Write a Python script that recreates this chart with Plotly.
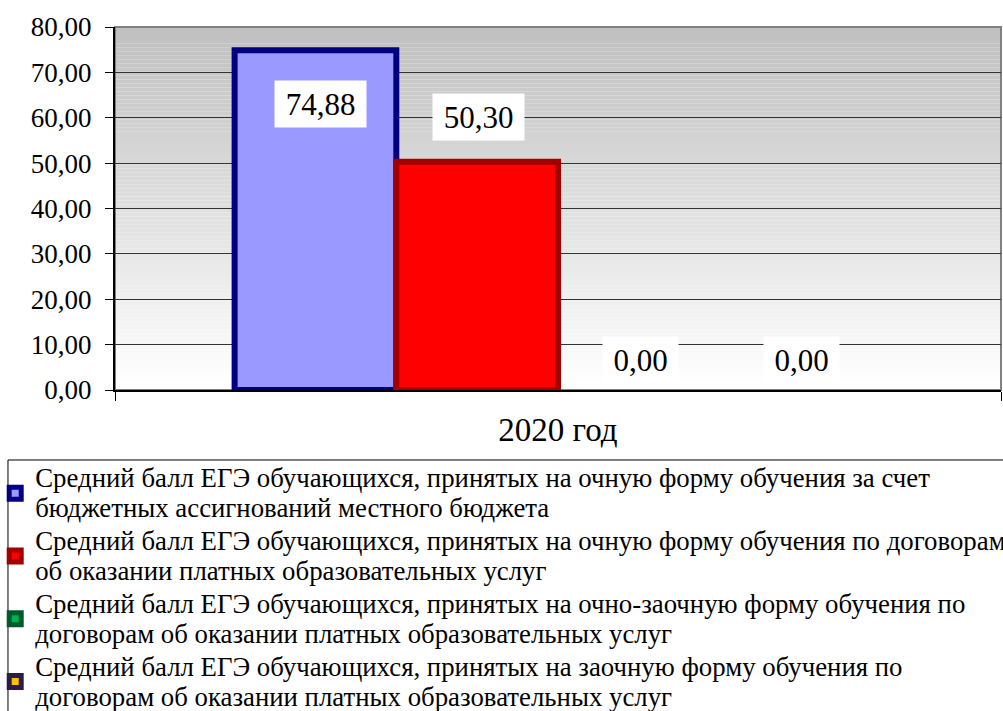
import plotly.graph_objects as go

categories = ["2020 год"]
series_lines = [
    ["Средний балл ЕГЭ обучающихся, принятых на очную форму обучения за счет",
     "бюджетных ассигнований местного бюджета"],
    ["Средний балл ЕГЭ обучающихся, принятых на очную форму обучения по договорам",
     "об оказании платных образовательных услуг"],
    ["Средний балл ЕГЭ обучающихся, принятых на очно-заочную форму обучения по",
     "договорам об оказании платных образовательных услуг"],
    ["Средний балл ЕГЭ обучающихся, принятых на заочную форму обучения по",
     "договорам об оказании платных образовательных услуг"],
]
values = [74.88, 50.30, 0.00, 0.00]
value_labels = ["74,88", "50,30", "0,00", "0,00"]
y_ticks = [0, 10, 20, 30, 40, 50, 60, 70, 80]

fill_colors = ["#9999FF", "#FF0000", "#00B050", "#FFC000"]
line_colors = ["#000080", "#A00000", "#005A2B", "#2E1A47"]
label_yshift = [-54, 45, 30, 30]
label_xshift = [5, 1, 2, 1]
label_w = [89, 89, 73, 73]

FONT = "Liberation Serif"
bargap = 0.27
n = len(values)

fig = go.Figure()
# bars (per-point border hidden for zero-height bars)
for i in range(n):
    fig.add_trace(go.Bar(
        x=categories, y=[values[i]], name=series_lines[i][0],
        offsetgroup=str(i), legendgroup=str(i), showlegend=False,
        marker=dict(color=fill_colors[i],
                    line=dict(color=line_colors[i], width=[6 if values[i] > 0 else 0])),
    ))
# legend entries
for i in range(n):
    label = "<br>".join(f'<span style="font-size:26.8px">{ln}</span>' for ln in series_lines[i])
    fig.add_trace(go.Bar(
        x=categories, y=[None], name=label,
        offsetgroup=str(i), legendgroup=str(i), showlegend=True, hoverinfo="skip",
        marker=dict(color=fill_colors[i], line=dict(color=line_colors[i], width=6)),
    ))

# data labels
bw = (1 - bargap) / n
for i in range(n):
    fig.add_annotation(
        x=(i - (n - 1) / 2) * bw, y=values[i], xref="x", yref="y",
        text=value_labels[i], showarrow=False,
        yshift=label_yshift[i], xshift=label_xshift[i],
        bgcolor="white", width=label_w[i], height=44,
        font=dict(family=FONT, size=31, color="black"),
    )

# gradient background
steps = 90
for k in range(steps):
    t = k / (steps - 1)
    g = int(round(192 + (255 - 192) * (1 - t)))
    fig.add_shape(type="rect", xref="x domain", yref="y domain",
                  x0=0, x1=1, y0=k / steps, y1=(k + 1) / steps,
                  fillcolor=f"rgb({g},{g},{g})", line=dict(width=0), layer="below")
fig.add_shape(type="rect", xref="x domain", yref="y domain", x0=0, x1=1, y0=0, y1=1,
              line=dict(color="#808080", width=2), layer="below")
# legend frame
fig.add_shape(type="rect", xref="paper", yref="paper",
              x0=-0.1208, x1=1.02, y0=-0.1928, y1=-0.95,
              line=dict(color="black", width=1), fillcolor="white", layer="below")

fig.update_layout(
    template="none",
    width=1003, height=711,
    margin=dict(l=115, r=2, t=27, b=321, autoexpand=False),
    barmode="group", bargap=bargap, bargroupgap=0,
    separators=", ",
    plot_bgcolor="white", paper_bgcolor="white",
    font=dict(family=FONT, size=24, color="black"),
    showlegend=True,
    legend=dict(
        x=-0.1352, y=-0.184, xanchor="left", yanchor="top",
        borderwidth=0, bgcolor="rgba(0,0,0,0)",
        font=dict(family=FONT, size=23, color="black"),
        tracegroupgap=0, groupclick="toggleitem",
    ),
)
fig.update_yaxes(
    range=[0, 80], tickvals=y_ticks, tickformat=".2f",
    showgrid=True, gridcolor="#333333", gridwidth=1,
    showline=True, linecolor="black", linewidth=2,
    ticks="outside", ticklen=8, tickcolor="black", tickwidth=1,
    tickfont=dict(family=FONT, size=27, color="black"), ticklabelstandoff=8,
    zeroline=False,
)
fig.update_xaxes(
    showline=True, linecolor="black", linewidth=2, showgrid=False,
    ticks="outside", ticklen=9, tickcolor="black", tickson="boundaries",
    tickfont=dict(family=FONT, size=33, color="black"), ticklabelstandoff=9,
)

fig.write_html("out.html", config={"displayModeBar": False},
               post_script="document.body.style.margin='0';")
